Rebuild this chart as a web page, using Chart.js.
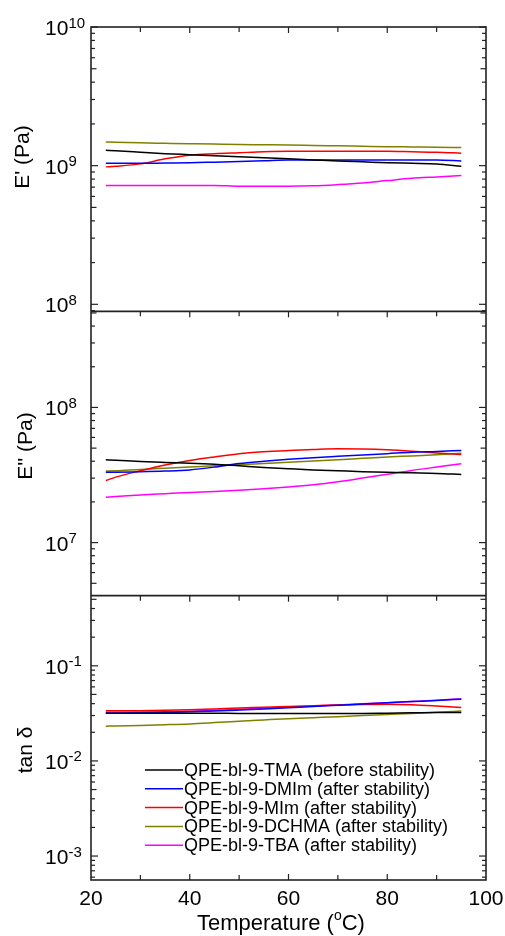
<!DOCTYPE html>
<html>
<head>
<meta charset="utf-8">
<script src="https://cdn.jsdelivr.net/npm/chart.js@4"></script>
<style>
  html, body { margin: 0; padding: 0; background: #fff; }
  #wrap { width: 505px; height: 936px; }
</style>
</head>
<body>
<div id="wrap"><canvas id="chart"></canvas></div>
<script>
const temps = [23, 25, 30, 35, 40, 45, 50, 55, 60, 65, 70, 75, 80, 85, 90, 95]
const sampleNames = [
  'QPE-bl-9-TMA (before stability)',
  'QPE-bl-9-DMIm (after stability)',
  'QPE-bl-9-MIm (after stability)',
  'QPE-bl-9-DCHMA (after stability)',
  'QPE-bl-9-TBA (after stability)'
]
const sampleColors = ['#000000', '#0000ff', '#ff0000', '#808000', '#ff00ff']

// E' (Pa)
const storageTMA = [1.29e9, 1.28e9, 1.25e9, 1.22e9, 1.20e9, 1.18e9, 1.16e9, 1.14e9, 1.12e9, 1.10e9, 1.08e9, 1.065e9, 1.05e9, 1.04e9, 1.03e9, 0.99e9]
const storageDMIm = [1.04e9, 1.04e9, 1.04e9, 1.045e9, 1.05e9, 1.06e9, 1.07e9, 1.085e9, 1.10e9, 1.10e9, 1.10e9, 1.10e9, 1.10e9, 1.10e9, 1.10e9, 1.08e9]
const storageMIm = [0.98e9, 0.99e9, 1.03e9, 1.12e9, 1.19e9, 1.22e9, 1.24e9, 1.26e9, 1.27e9, 1.27e9, 1.27e9, 1.27e9, 1.27e9, 1.26e9, 1.25e9, 1.23e9]
const storageDCHMA = [1.48e9, 1.475e9, 1.46e9, 1.45e9, 1.44e9, 1.43e9, 1.42e9, 1.415e9, 1.41e9, 1.40e9, 1.39e9, 1.38e9, 1.37e9, 1.365e9, 1.36e9, 1.35e9]
const storageTBA = [0.72e9, 0.72e9, 0.72e9, 0.72e9, 0.72e9, 0.72e9, 0.71e9, 0.71e9, 0.71e9, 0.715e9, 0.73e9, 0.75e9, 0.78e9, 0.81e9, 0.83e9, 0.85e9]

// E'' (Pa)
const lossTMA = [4.10e7, 4.07e7, 3.98e7, 3.92e7, 3.87e7, 3.80e7, 3.70e7, 3.60e7, 3.52e7, 3.45e7, 3.40e7, 3.35e7, 3.31e7, 3.28e7, 3.25e7, 3.19e7]
const lossDMIm = [3.32e7, 3.32e7, 3.34e7, 3.38e7, 3.45e7, 3.62e7, 3.85e7, 4.00e7, 4.13e7, 4.25e7, 4.35e7, 4.45e7, 4.55e7, 4.66e7, 4.72e7, 4.80e7]
const lossMIm = [2.88e7, 3.05e7, 3.40e7, 3.75e7, 4.05e7, 4.30e7, 4.55e7, 4.70e7, 4.80e7, 4.88e7, 4.94e7, 4.93e7, 4.87e7, 4.75e7, 4.60e7, 4.49e7]
const lossDCHMA = [3.38e7, 3.40e7, 3.48e7, 3.55e7, 3.62e7, 3.70e7, 3.77e7, 3.85e7, 3.93e7, 4.01e7, 4.10e7, 4.20e7, 4.30e7, 4.38e7, 4.47e7, 4.58e7]
const lossTBA = [2.17e7, 2.19e7, 2.25e7, 2.30e7, 2.35e7, 2.39e7, 2.44e7, 2.50e7, 2.58e7, 2.68e7, 2.82e7, 3.00e7, 3.20e7, 3.42e7, 3.62e7, 3.83e7]

// tan delta
const tanTMA = [0.0318, 0.0318, 0.0318, 0.0318, 0.0318, 0.0317, 0.0316, 0.0315, 0.0315, 0.0315, 0.0315, 0.0316, 0.0318, 0.0320, 0.0322, 0.0323]
const tanDMIm = [0.0318, 0.0318, 0.0320, 0.0324, 0.0328, 0.0334, 0.0342, 0.0351, 0.0362, 0.0373, 0.0385, 0.0397, 0.0410, 0.0421, 0.0432, 0.0446]
const tanMIm = [0.0336, 0.0336, 0.0337, 0.0340, 0.0345, 0.0352, 0.0360, 0.0366, 0.0373, 0.0380, 0.0387, 0.0392, 0.0395, 0.0390, 0.0378, 0.0364]
const tanDCHMA = [0.0232, 0.0233, 0.0236, 0.0240, 0.0245, 0.0253, 0.0262, 0.0270, 0.0278, 0.0285, 0.0292, 0.0300, 0.0308, 0.0316, 0.0325, 0.0335]
const tanTBA = [0.0325, 0.0325, 0.0326, 0.0329, 0.0333, 0.0340, 0.0350, 0.0359, 0.0368, 0.0378, 0.0388, 0.0399, 0.0410, 0.0421, 0.0433, 0.0450]

const xTicks = [20, 40, 60, 80, 100]
const panelTitles = { yStor: "E' (Pa)", yLoss: "E'' (Pa)", yTan: 'tan \u03b4' }
// where each rotated title sits: [baseline x, centre y]
const titleSpots = { yStor: [29, 157], yLoss: [32, 446], yTan: [32, 750] }

const panelSeries = {
  yStor: [storageTMA, storageDMIm, storageMIm, storageDCHMA, storageTBA],
  yLoss: [lossTMA, lossDMIm, lossMIm, lossDCHMA, lossTBA],
  yTan: [tanTMA, tanDMIm, tanMIm, tanDCHMA, tanTBA]
}

let datasets = []
Object.keys(panelSeries).forEach(axis => {
  panelSeries[axis].forEach((vals, i) => {
    datasets.push({
      label: sampleNames[i],
      data: temps.map((t, k) => ({ x: t, y: vals[k] })),
      yAxisID: axis,
      borderColor: sampleColors[i],
      borderWidth: 1.5,
      pointRadius: 0,
      cubicInterpolationMode: 'monotone',
      fill: false
    })
  })
})

const FONT = '"Liberation Sans", Arial, sans-serif'

function logAxis(min, max, weight) {
  return {
    type: 'logarithmic', position: 'left', stack: 'panels', stackWeight: 1, weight: weight,
    min: min, max: max,
    grid: { display: false }, border: { display: false },
    ticks: { display: false },
    afterFit(scale) { scale.width = 91 }
  }
}

function line(ctx, x1, y1, x2, y2) {
  ctx.beginPath(); ctx.moveTo(x1, y1); ctx.lineTo(x2, y2); ctx.stroke()
}

const framePlugin = {
  id: 'frame',
  afterDatasetsDraw(chart) {
    const ctx = chart.ctx
    const { left, right, top, bottom } = chart.chartArea
    const xs = chart.scales.x
    ctx.save()
    ctx.strokeStyle = '#222'
    ctx.fillStyle = '#000'
    ctx.lineWidth = 1.2
    Object.keys(panelTitles).forEach(id => {
      const s = chart.scales[id]
      const lo = Math.floor(Math.log10(s.min)), hi = Math.ceil(Math.log10(s.max))
      for (let d = lo; d <= hi; d++) {
        for (let m = 1; m < 10; m++) {
          const v = m * Math.pow(10, d)
          if (v < s.min * 0.999 || v > s.max * 1.001) continue
          const py = s.getPixelForValue(v)
          const len = m === 1 ? 7 : (m === 5 ? 5.5 : 4)
          line(ctx, left, py, left + len, py)
          line(ctx, right, py, right - len, py)
          if (m === 1) {
            ctx.textAlign = 'left'
            ctx.textBaseline = 'alphabetic'
            ctx.font = '21px ' + FONT
            ctx.fillText('10', 45, py + 8)
            ctx.font = '15px ' + FONT
            ctx.fillText(String(d), 68.5, py + 0.5)
          }
        }
      }
      for (let t = 30; t <= 90; t += 10) {
        const px = xs.getPixelForValue(t)
        line(ctx, px, s.top, px, s.top + (t % 20 === 0 ? 6 : 5))
      }
      // axis title
      ctx.save()
      ctx.translate(titleSpots[id][0], titleSpots[id][1])
      ctx.rotate(-Math.PI / 2)
      ctx.font = '21px ' + FONT
      ctx.textAlign = 'center'
      ctx.textBaseline = 'alphabetic'
      ctx.fillText(panelTitles[id], 0, 0)
      ctx.restore()
    })
    // bottom x ticks and labels
    for (let t = 30; t <= 90; t += 10) {
      const px = xs.getPixelForValue(t)
      line(ctx, px, bottom, px, bottom - (t % 20 === 0 ? 6 : 5))
    }
    ctx.font = '21px ' + FONT
    ctx.textAlign = 'center'
    ctx.textBaseline = 'alphabetic'
    xTicks.forEach(t => ctx.fillText(String(t), xs.getPixelForValue(t), 905))
    // x title
    ctx.textAlign = 'left'
    ctx.font = '22px ' + FONT
    let tx = 197
    ctx.fillText('Temperature (', tx, 930)
    tx += ctx.measureText('Temperature (').width
    ctx.font = '14px ' + FONT
    ctx.fillText('o', tx, 920)
    tx += ctx.measureText('o').width
    ctx.font = '22px ' + FONT
    ctx.fillText('C)', tx, 930)
    // frame and separators
    ctx.lineWidth = 1.6
    ctx.strokeRect(left, top, right - left, bottom - top)
    line(ctx, left, chart.scales.yStor.bottom, right, chart.scales.yStor.bottom)
    line(ctx, left, chart.scales.yLoss.bottom, right, chart.scales.yLoss.bottom)
    // legend
    ctx.lineWidth = 1.5
    ctx.font = '18px ' + FONT
    ctx.textBaseline = 'middle'
    sampleNames.forEach((n, i) => {
      const ly = 770 + i * 18.8
      ctx.strokeStyle = sampleColors[i]
      line(ctx, 145, ly, 183, ly)
      ctx.fillText(n, 184, ly + 1)
    })
    ctx.restore()
  }
}

new Chart(document.getElementById('chart'), {
  type: 'line',
  data: { datasets: datasets },
  options: {
    responsive: true,
    maintainAspectRatio: false,
    animation: false,
    layout: { padding: { top: 27, right: 19, left: 0, bottom: 0 } },
    plugins: { legend: { display: false }, tooltip: { enabled: false } },
    scales: {
      x: {
        type: 'linear', min: 20, max: 100,
        grid: { display: false }, border: { display: false },
        ticks: { display: false },
        afterFit(scale) { scale.height = 56 }
      },
      yTan: logAxis(5.6e-4, 0.546, 1),
      yLoss: logAxis(4.05e6, 5.14e8, 2),
      yStor: logAxis(8.9e7, 1e10, 3)
    }
  },
  plugins: [framePlugin]
})
</script>
</body>
</html>
